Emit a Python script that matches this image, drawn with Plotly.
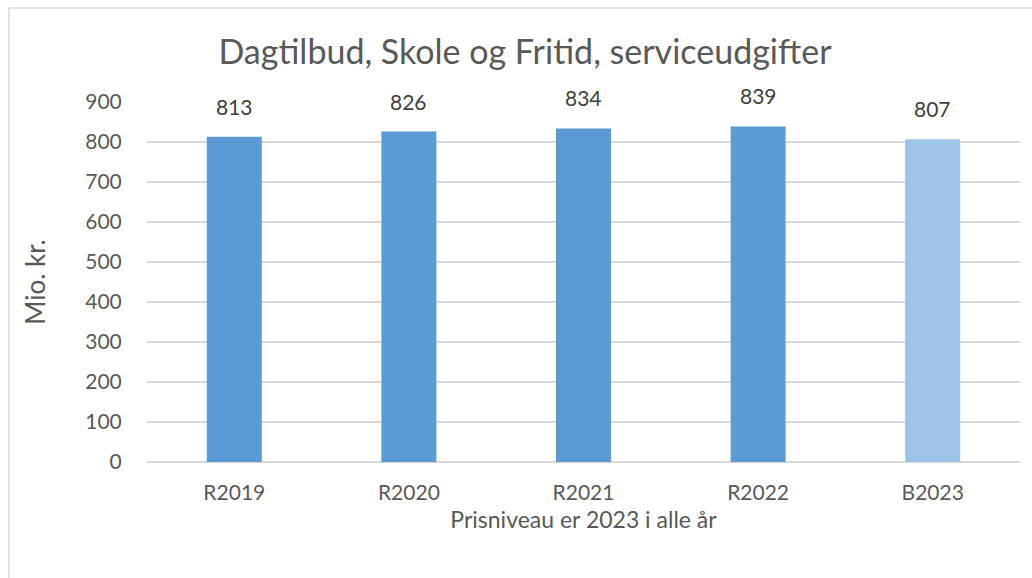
import plotly.graph_objects as go

categories = ["R2019", "R2020", "R2021", "R2022", "B2023"]
values = [813, 826, 834, 839, 807]
bar_colors = ["#5B9BD5", "#5B9BD5", "#5B9BD5", "#5B9BD5", "#9DC3E6"]
y_ticks = [0, 100, 200, 300, 400, 500, 600, 700, 800, 900]

FONT = "Lato, 'Open Sans', sans-serif"

fig = go.Figure()
fig.add_trace(go.Bar(
    x=categories, y=values,
    marker=dict(color=bar_colors, line=dict(width=0)),
    width=0.315,
))

for c, v in zip(categories, values):
    fig.add_annotation(x=c, y=v, text=str(v), showarrow=False,
                       xanchor="center", yanchor="bottom", yshift=16,
                       font=dict(family=FONT, size=21, color="#404040"))

W, H = 1032, 578
L, R, T, B = 147, 12, 102, 116
pw, ph = W - L - R, H - T - B

def px_x(p):
    return (p - L) / pw

def px_y(p):
    return (H - B - p) / ph

fig.add_shape(type="rect", xref="paper", yref="paper",
              x0=px_x(9), x1=px_x(1045), y0=px_y(590), y1=px_y(8),
              line=dict(color="#D9D9D9", width=1.5), fillcolor="rgba(0,0,0,0)",
              layer="below")

fig.update_layout(
    width=W, height=H,
    margin=dict(l=L, r=R, t=T, b=B),
    paper_bgcolor="white", plot_bgcolor="white",
    showlegend=False,
    title=dict(text="Dagtilbud, Skole og Fritid, serviceudgifter",
               x=525 / W, xref="container", xanchor="center",
               y=1 - 52 / H, yref="container", yanchor="middle",
               font=dict(family=FONT, size=34, color="#595959")),
    xaxis=dict(
        tickfont=dict(family=FONT, size=21, color="#595959"),
        showgrid=False, showline=False,
        ticks="outside", ticklen=12, tickcolor="rgba(0,0,0,0)",
        title=dict(text="Prisniveau er 2023 i alle år", standoff=8,
                   font=dict(family=FONT, size=23, color="#595959")),
    ),
    yaxis=dict(
        range=[0, 900], tickvals=y_ticks,
        tickfont=dict(family=FONT, size=21, color="#595959"),
        showgrid=True, gridcolor="#D9D9D9", gridwidth=1.5,
        zeroline=True, zerolinecolor="#D9D9D9", zerolinewidth=1.5,
        showline=False,
        ticks="outside", ticklen=20, tickcolor="rgba(0,0,0,0)",
        title=dict(text="Mio. kr.", standoff=32,
                   font=dict(family=FONT, size=26, color="#595959")),
    ),
    bargap=0.685,
)

fig.write_html("out.html", config={"displayModeBar": False},
               post_script="document.body.style.margin='0';document.body.style.padding='0';")
